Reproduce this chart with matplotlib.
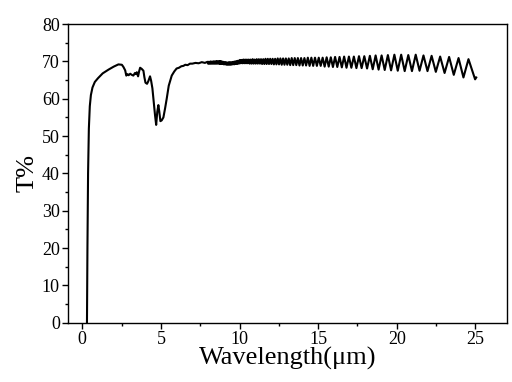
import numpy as np
import matplotlib.pyplot as plt
from matplotlib.ticker import MultipleLocator

# smooth part of the spectrum (wavelength in um, transmittance %)
base_wl = [0.30, 0.33, 0.37, 0.42, 0.48, 0.55, 0.65, 0.80, 1.00, 1.30, 1.67, 2.00,
           2.30, 2.52, 2.62, 2.73, 2.80, 2.88, 2.95, 3.05, 3.15, 3.25, 3.35, 3.42,
           3.47, 3.55, 3.62, 3.68, 3.78, 3.89, 3.95, 4.02, 4.12, 4.20, 4.31, 4.38,
           4.46, 4.55, 4.63, 4.70, 4.77, 4.84, 4.90, 4.97, 5.05, 5.16, 5.27, 5.37,
           5.50, 5.69, 5.85, 6.00, 6.15, 6.30, 6.43, 6.55, 6.70, 6.85, 7.00, 7.20,
           7.40, 7.60, 7.80]
base_T = [0.0, 20.0, 40.0, 52.0, 58.0, 61.0, 63.0, 64.5, 65.5, 66.8, 67.8, 68.6,
          69.2, 69.1, 68.5, 67.6, 66.2, 66.6, 66.3, 66.7, 66.4, 66.2, 66.9, 66.6,
          67.1, 66.0, 67.4, 68.3, 68.0, 67.5, 65.8, 64.3, 64.0, 64.7, 66.0, 64.8,
          62.8, 59.0, 55.5, 53.0, 56.5, 58.3, 56.5, 54.0, 54.2, 55.0, 57.5, 60.0,
          63.5, 66.2, 67.3, 68.1, 68.3, 68.7, 68.8, 69.1, 69.0, 69.4, 69.4, 69.6,
          69.5, 69.8, 69.6]

# interference fringes: maxima and minima
peak_wl = [7.964, 8.033, 8.103, 8.174, 8.246, 8.320, 8.395, 8.471, 8.549, 8.628,
           8.709, 8.791, 8.875, 8.960,
           9.047, 9.136, 9.227, 9.319, 9.413, 9.509, 9.607, 9.708, 9.810, 9.914,
           10.021, 10.130, 10.241, 10.355, 10.472, 10.591, 10.713, 10.837, 10.965,
           11.096, 11.230, 11.367, 11.507, 11.651, 11.799, 11.950,
           12.106, 12.265, 12.429, 12.597, 12.770, 12.947, 13.130, 13.318, 13.511,
           13.710, 13.915, 14.126, 14.344, 14.568, 14.799, 15.038,
           15.285, 15.540, 15.804, 16.077, 16.360, 16.652, 16.956, 17.270, 17.596,
           17.935,
           18.288, 18.654, 19.035, 19.433, 19.847, 20.279,
           20.731, 21.203, 21.697, 22.214, 22.757, 23.327, 23.927, 24.558]
peak_T = [69.9, 69.9, 69.9, 70.0, 69.9, 70.0, 70.0, 70.0, 70.1, 70.0,
          70.1, 70.1, 70.0, 69.9,
          69.8, 69.8, 69.7, 69.8, 69.8, 69.8, 69.9, 70.0, 70.1, 70.2,
          70.4, 70.4, 70.5, 70.5, 70.5, 70.5, 70.5, 70.6, 70.5,
          70.6, 70.6, 70.6, 70.6, 70.7, 70.7, 70.7,
          70.7, 70.7, 70.8, 70.8, 70.8, 70.8, 70.8, 70.9, 70.9,
          70.9, 70.9, 70.9, 71.0, 71.0, 71.0, 71.0,
          71.0, 71.1, 71.1, 71.2, 71.2, 71.3, 71.3, 71.3, 71.4,
          71.4,
          71.5, 71.6, 71.6, 71.7, 71.8, 71.8,
          71.7, 71.8, 71.6, 71.5, 71.3, 71.2, 70.9, 70.6]

trough_wl = [7.998, 8.067, 8.138, 8.210, 8.283, 8.357, 8.433, 8.510, 8.588, 8.668,
             8.750, 8.833, 8.917,
             9.004, 9.091, 9.181, 9.273, 9.366, 9.461, 9.558, 9.657, 9.758, 9.862,
             9.967,
             10.075, 10.185, 10.298, 10.413, 10.531, 10.652, 10.775, 10.901,
             11.030, 11.162, 11.298, 11.437, 11.579, 11.725, 11.874, 12.027,
             12.185, 12.346, 12.512, 12.683, 12.858, 13.038, 13.223, 13.414,
             13.610, 13.812, 14.020, 14.234, 14.455, 14.683, 14.918, 15.161,
             15.412, 15.671, 15.939, 16.217, 16.505, 16.802, 17.111, 17.432,
             17.764, 18.110,
             18.469, 18.843, 19.232, 19.637, 20.061, 20.502,
             20.964, 21.447, 21.952, 22.482, 23.039, 23.623, 24.238]
trough_T = [69.4, 69.4, 69.4, 69.4, 69.4, 69.4, 69.4, 69.4, 69.4, 69.4,
            69.3, 69.3, 69.3,
            69.2, 69.2, 69.1, 69.1, 69.1, 69.1, 69.2, 69.2, 69.3, 69.3,
            69.4,
            69.5, 69.5, 69.5, 69.5, 69.5, 69.4, 69.4, 69.4,
            69.4, 69.4, 69.4, 69.3, 69.3, 69.3, 69.3, 69.3,
            69.2, 69.2, 69.2, 69.1, 69.1, 69.1, 69.0, 69.0,
            69.0, 68.9, 68.9, 68.9, 68.8, 68.8, 68.8, 68.8,
            68.6, 68.6, 68.5, 68.5, 68.4, 68.3, 68.3, 68.2,
            68.2, 68.1,
            67.9, 67.8, 67.7, 67.6, 67.5, 67.4,
            67.4, 67.5, 67.4, 67.2, 66.9, 66.4, 65.7]

end_wl = [24.98, 25.05]
end_T = [65.2, 65.7]

wl = np.concatenate([base_wl, peak_wl, trough_wl, end_wl])
T = np.concatenate([base_T, peak_T, trough_T, end_T])
order = np.argsort(wl, kind="stable")
wl, T = wl[order], T[order]

plt.rcParams['font.family'] = ['Liberation Serif', 'DejaVu Serif']

fig = plt.figure(figsize=(5.12, 3.82), dpi=100)
ax = fig.add_axes([0.133, 0.155, 0.857, 0.782])
ax.plot(wl, T, color='black', lw=1.5, solid_joinstyle='round')

ax.set_xlim(-0.9, 27)
ax.set_ylim(0, 80)
ax.xaxis.set_major_locator(MultipleLocator(5))
ax.xaxis.set_minor_locator(MultipleLocator(2.5))
ax.yaxis.set_major_locator(MultipleLocator(10))
ax.yaxis.set_minor_locator(MultipleLocator(5))
ax.tick_params(which='major', direction='out', length=4, width=1, labelsize=13, pad=2)
ax.tick_params(which='minor', direction='out', length=2.5, width=1)
for s in ax.spines.values():
    s.set_linewidth(1.0)

ax.set_xlabel('Wavelength(\u03bcm)', fontsize=19, labelpad=-1)
ax.set_ylabel('T%', fontsize=19, labelpad=2)

fig.savefig('out.png', dpi=100)
